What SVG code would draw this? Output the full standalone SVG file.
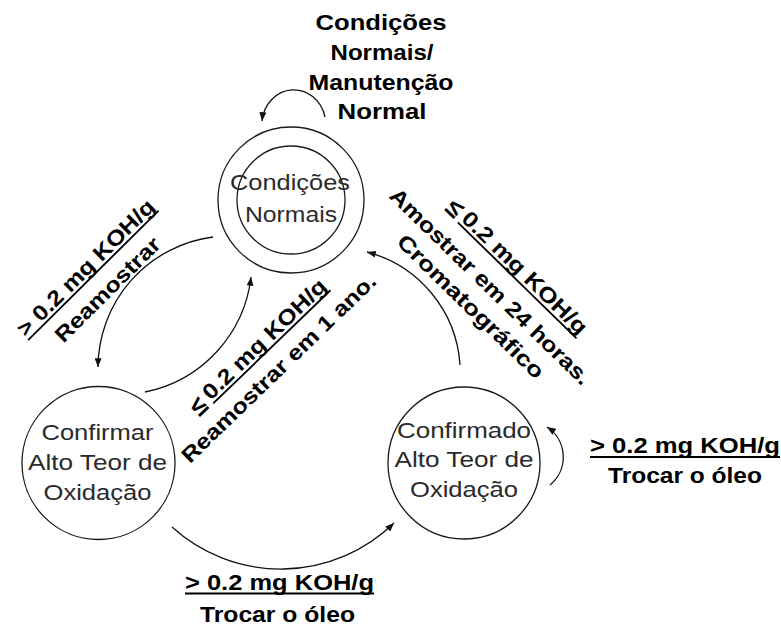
<svg xmlns="http://www.w3.org/2000/svg" width="781" height="626" viewBox="0 0 781 626">
  <style>
    .state { fill: none; stroke: #1a1a1a; stroke-width: 1.3; }
    .edge { fill: none; stroke: #111; stroke-width: 1.3; marker-end: url(#head); }
    .state-text { font-family: "Liberation Sans", Arial, sans-serif; font-size: 22px; fill: #2a2a2a; text-anchor: middle; }
    .cond { font-family: "Liberation Sans", Arial, sans-serif; font-size: 21.5px; font-weight: bold; fill: #000; text-anchor: middle; }
    .le { font-size: 26px; }
    .rule { stroke: #000; stroke-width: 1.8; }
  </style>
  <defs>
    <marker id="head" viewBox="0 0 10 8" refX="10" refY="4" markerWidth="9" markerHeight="7" markerUnits="userSpaceOnUse" orient="auto">
      <path d="M0,0 L10,4 L0,8 z" fill="#111"/>
    </marker>
  </defs>

  <!-- transitions between the oil-condition states -->
  <g id="connectors">
    <path class="edge" d="M 325 117 A 32 35 0 0 0 262 121"/>
    <path class="edge" d="M 213 237 A 132 132 0 0 0 98 367"/>
    <path class="edge" d="M 145 392 A 133 133 0 0 0 251 277"/>
    <path class="edge" d="M 172 527 A 162 162 0 0 0 394 523"/>
    <path class="edge" d="M 460 365 A 125 125 0 0 0 367 252"/>
    <path class="edge" d="M 550 485 A 36 36 0 0 0 547 427"/>
  </g>

  <!-- states -->
  <g id="normal">
    <circle class="state" cx="291" cy="200" r="73"/>
    <circle class="state" cx="291" cy="200" r="54"/>
    <text class="state-text" x="290" y="190" textLength="120" lengthAdjust="spacingAndGlyphs">Condições</text>
    <text class="state-text" x="291" y="222" textLength="92" lengthAdjust="spacingAndGlyphs">Normais</text>
  </g>
  <g id="confirm">
    <circle class="state" cx="98.5" cy="463" r="76.5"/>
    <text class="state-text" x="97.5" y="440" textLength="112" lengthAdjust="spacingAndGlyphs">Confirmar</text>
    <text class="state-text" x="97.5" y="470" textLength="139" lengthAdjust="spacingAndGlyphs">Alto Teor de</text>
    <text class="state-text" x="97.5" y="500" textLength="108" lengthAdjust="spacingAndGlyphs">Oxidação</text>
  </g>
  <g id="confirmed">
    <circle class="state" cx="464" cy="463" r="76"/>
    <text class="state-text" x="464" y="438" textLength="134" lengthAdjust="spacingAndGlyphs">Confirmado</text>
    <text class="state-text" x="464" y="467" textLength="139" lengthAdjust="spacingAndGlyphs">Alto Teor de</text>
    <text class="state-text" x="464" y="497" textLength="108" lengthAdjust="spacingAndGlyphs">Oxidação</text>
  </g>

  <!-- transition labels -->
  <g id="label-normal-loop">
    <text class="cond" x="381" y="30" textLength="131" lengthAdjust="spacingAndGlyphs">Condições</text>
    <text class="cond" x="382" y="60" textLength="103" lengthAdjust="spacingAndGlyphs">Normais/</text>
    <text class="cond" x="381" y="90" textLength="145" lengthAdjust="spacingAndGlyphs">Manutenção</text>
    <text class="cond" x="382" y="119" textLength="89" lengthAdjust="spacingAndGlyphs">Normal</text>
  </g>
  <g id="label-resample" transform="translate(93 275) rotate(-44.8)">
    <text class="cond" x="0" y="-3" textLength="184" lengthAdjust="spacingAndGlyphs">&gt; 0.2 mg KOH/g</text>
    <line class="rule" x1="-92" y1="0.5" x2="92" y2="0.5"/>
    <text class="cond" x="0" y="28" textLength="139" lengthAdjust="spacingAndGlyphs">Reamostrar</text>
  </g>
  <g id="label-back-1yr" transform="translate(271.5 346.5) rotate(-44)">
    <text class="cond le" x="-94" y="1">≤</text>
    <text class="cond" x="0" y="-3" textLength="163" lengthAdjust="spacingAndGlyphs">0.2 mg KOH/g</text>
    <line class="rule" x1="-81.5" y1="0.5" x2="81.5" y2="0.5"/>
    <text class="cond" x="-10" y="28" textLength="261" lengthAdjust="spacingAndGlyphs">Reamostrar em 1 ano.</text>
  </g>
  <g id="label-back-24h" transform="translate(517.5 280) rotate(44.3)">
    <text class="cond le" x="-95" y="1">≤</text>
    <text class="cond" x="0" y="-3" textLength="166" lengthAdjust="spacingAndGlyphs">0.2 mg KOH/g</text>
    <line class="rule" x1="-83" y1="0.5" x2="83" y2="0.5"/>
    <text class="cond" x="-15" y="31" textLength="271" lengthAdjust="spacingAndGlyphs">Amostrar em 24 horas.</text>
    <text class="cond" x="-15" y="59" textLength="196" lengthAdjust="spacingAndGlyphs">Cromatográfico</text>
  </g>
  <g id="label-change-oil">
    <text class="cond" x="279.5" y="590" textLength="189" lengthAdjust="spacingAndGlyphs">&gt; 0.2 mg KOH/g</text>
    <line class="rule" x1="185" y1="593.5" x2="374" y2="593.5"/>
    <text class="cond" x="277.5" y="622" textLength="155" lengthAdjust="spacingAndGlyphs">Trocar o óleo</text>
  </g>
  <g id="label-keep-changing">
    <text class="cond" x="685" y="453" textLength="190" lengthAdjust="spacingAndGlyphs">&gt; 0.2 mg KOH/g</text>
    <line class="rule" x1="590" y1="457" x2="780" y2="457"/>
    <text class="cond" x="685" y="483" textLength="154" lengthAdjust="spacingAndGlyphs">Trocar o óleo</text>
  </g>
</svg>
